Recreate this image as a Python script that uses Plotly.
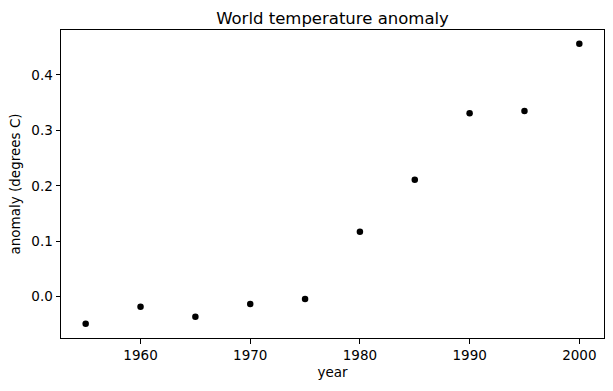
import plotly.graph_objects as go

years = [1955, 1960, 1965, 1970, 1975, 1980, 1985, 1990, 1995, 2000]
anomaly = [-0.049, -0.018, -0.036, -0.013, -0.004, 0.117, 0.211, 0.331, 0.335, 0.456]
x_ticks = [1960, 1970, 1980, 1990, 2000]
y_ticks = [0.0, 0.1, 0.2, 0.3, 0.4]
y_tick_labels = ["0.0", "0.1", "0.2", "0.3", "0.4"]

W, H = 613, 391
L, R, T, B = 61, 9, 30, 53

fig = go.Figure(go.Scatter(
    x=years, y=anomaly, mode="markers",
    marker=dict(color="black", size=6.5, line=dict(width=0)),
))

font = "DejaVu Sans"
FS = 13.5
axis_common = dict(
    showline=True, linecolor="black", linewidth=1, mirror=True,
    ticks="outside", ticklen=4.5, tickwidth=1, tickcolor="black",
    showgrid=False, zeroline=False, automargin=False,
    tickfont=dict(family=font, size=FS, color="black"),
)

fig.update_layout(
    width=W, height=H,
    margin=dict(l=L, r=R, t=T, b=B, autoexpand=False),
    paper_bgcolor="white", plot_bgcolor="white",
    showlegend=False,
    title=dict(text="World temperature anomaly", x=(L + (W - R)) / 2 / W, xanchor="center",
               y=1 - 18 / H, yanchor="middle",
               font=dict(family=font, size=16.5, color="black")),
    xaxis=dict(range=[1952.75, 2002.25], tickvals=x_ticks, ticktext=[str(v) for v in x_ticks],
               title=dict(text="year", font=dict(family=font, size=FS, color="black"), standoff=5),
               **axis_common),
    yaxis=dict(range=[-0.0745, 0.481], tickvals=y_ticks, ticktext=y_tick_labels,
               title=dict(text="anomaly (degrees C)", font=dict(family=font, size=FS, color="black"), standoff=7),
               **axis_common),
)

fig.write_html("out.html", config={"displayModeBar": False},
               post_script="document.body.style.margin='0';document.body.style.overflow='hidden';")
